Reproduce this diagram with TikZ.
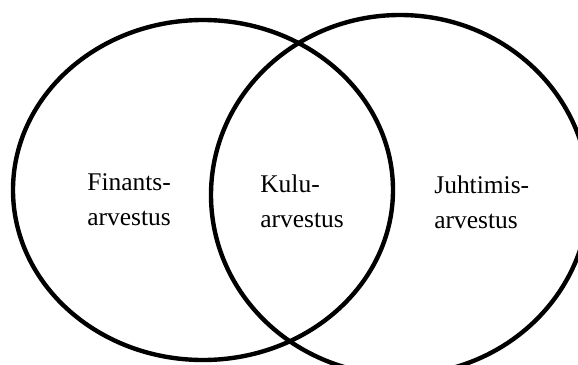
\documentclass[tikz,border=0pt]{standalone}
\usepackage{fontspec}
\setmainfont{Liberation Serif}
\usepackage{tikz}
\tikzset{lbl/.style={anchor=base west,align=left,inner sep=0pt,
  font=\fontsize{14.5}{19.9}\selectfont}}

\begin{document}
\begin{tikzpicture}[x=0.02cm,y=-0.02cm]
        \useasboundingbox (0,0) rectangle (578,365);
        \clip (0,0) rectangle (578,365);
        \draw[line width=2.5pt] (203,190) ellipse [x radius=190,y radius=170];
        \draw[line width=2.5pt] (400,195) ellipse [x radius=189,y radius=180];
        \node[lbl] (fin) at (87,225.5) {Finants-\\arvestus};
        \node[lbl] (kulu) at (260,227) {Kulu-\\arvestus};
        \node[lbl] (juht) at (434,228.5) {Juhtimis-\\arvestus};
      \end{tikzpicture}
\end{document}
